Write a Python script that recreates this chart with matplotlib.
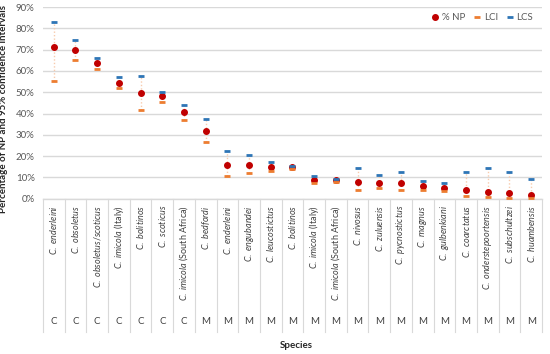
import matplotlib
matplotlib.use('Agg')
import matplotlib.pyplot as plt
import matplotlib.transforms as mtransforms
import numpy as np

species = ["C. enderleini", "C. obsoletus", "C. obsoletus/scoticus", "C. imicola (Italy)",
           "C. bolitinos", "C. scoticus", "C. imicola (South Africa)", "C. bedfordi",
           "C. enderleini", "C. engubandei", "C. leucostictus", "C. bolitinos",
           "C. imicola (Italy)", "C. imicola (South Africa)", "C. nivosus", "C. zuluensis",
           "C. pycnostictus", "C. magnus", "C. gulbenkiani", "C. coarctatus",
           "C. onderstepoortensis", "C. subschultzei", "C. huambensis"]
groups = ["C"] * 7 + ["M"] * 16
np_vals = [71.0, 70.0, 63.5, 54.5, 49.7, 48.0, 40.5, 31.7, 15.8, 15.8, 15.0, 14.8,
           8.8, 8.6, 7.7, 7.5, 7.2, 6.1, 5.2, 3.9, 3.0, 2.7, 1.9]
lci = [55.2, 65.0, 60.7, 52.0, 41.7, 45.6, 37.1, 26.4, 10.7, 11.9, 13.1, 14.1,
       7.2, 7.9, 4.1, 5.0, 4.1, 3.9, 3.6, 1.3, 0.8, 0.5, 0.2]
lcs = [83.0, 74.5, 66.0, 57.0, 57.5, 50.3, 44.0, 37.5, 22.5, 20.4, 17.2, 15.3,
       10.8, 9.2, 14.4, 11.3, 12.4, 8.5, 7.4, 12.5, 14.3, 12.5, 9.1]
yticks = [0, 10, 20, 30, 40, 50, 60, 70, 80, 90]

plt.rcParams['font.family'] = ['Lato', 'DejaVu Sans']
plt.rcParams['mathtext.fontset'] = 'custom'
plt.rcParams['mathtext.it'] = 'Lato:italic'
plt.rcParams['mathtext.rm'] = 'Lato'

def fmt(lbl):
    if " (" in lbl:
        a, b = lbl.split(" (", 1)
        return r"$\mathit{" + a.replace(" ", r"\ ") + "}$ (" + b
    return r"$\mathit{" + lbl.replace(" ", r"\ ") + "}$"

fig = plt.figure(figsize=(5.5, 3.54), dpi=100)
ax = fig.add_axes([0.078, 0.4387, 0.9075, 0.5415])
x = np.arange(len(species))

ax.vlines(x, lci, lcs, colors='#F8CBAD', linestyles=(0, (1, 1.5)), lw=1, zorder=2)
ax.plot(x, np_vals, 'o', color='#C00000', ms=4, label='% NP', zorder=3, ls='none')
ax.plot(x, lci, '_', color='#ED7D31', ms=4, mew=2, label='LCI', zorder=4, ls='none')
ax.plot(x, lcs, '_', color='#2E75B6', ms=4, mew=2, label='LCS', zorder=5, ls='none')

ax.set_xlim(-0.5, len(species) - 0.5)
ax.set_ylim(0, 90)
ax.set_yticks(yticks)
ax.set_yticklabels([f"{v}%" for v in yticks])
ax.grid(axis='y', color='#D9D9D9', lw=1)
ax.set_axisbelow(True)
for s in ax.spines.values():
    s.set_visible(False)
ax.tick_params(axis='y', length=0, labelsize=7, colors='#595959', pad=6)
ax.set_xticks([])

trans = mtransforms.blended_transform_factory(ax.transData, ax.transAxes)
for b in np.arange(-0.5, len(species)):
    ax.plot([b, b], [0, -0.695], transform=trans, clip_on=False, color='#D9D9D9', lw=0.8)
ax.plot([-0.5, len(species) - 0.5], [0, 0], transform=trans, clip_on=False, color='#D9D9D9', lw=1)

for i, (sp, g) in enumerate(zip(species, groups)):
    ax.text(i, -0.033, fmt(sp), transform=trans, rotation=90, ha='center', va='top',
            fontsize=6.5, color='#404040')
    ax.text(i, -0.643, g, transform=trans, ha='center', va='center', fontsize=7, color='#404040')

ax.set_ylabel("Percentage of NP and 95% confidence intervals", fontsize=7,
              fontweight='bold', color='#262626')
ax.yaxis.set_label_coords(-0.070, 0.47)
fig.text(0.539, 0.025, "Species", fontsize=7, fontweight='bold', color='#262626', ha='center', va='center')

ax.legend(loc='center right', bbox_to_anchor=(1.0, 0.943), ncol=3, frameon=False,
          fontsize=7, handlelength=0.8, columnspacing=0.8, handletextpad=0.3,
          numpoints=1, labelcolor='#595959')

fig.savefig('out.png', dpi=100)
